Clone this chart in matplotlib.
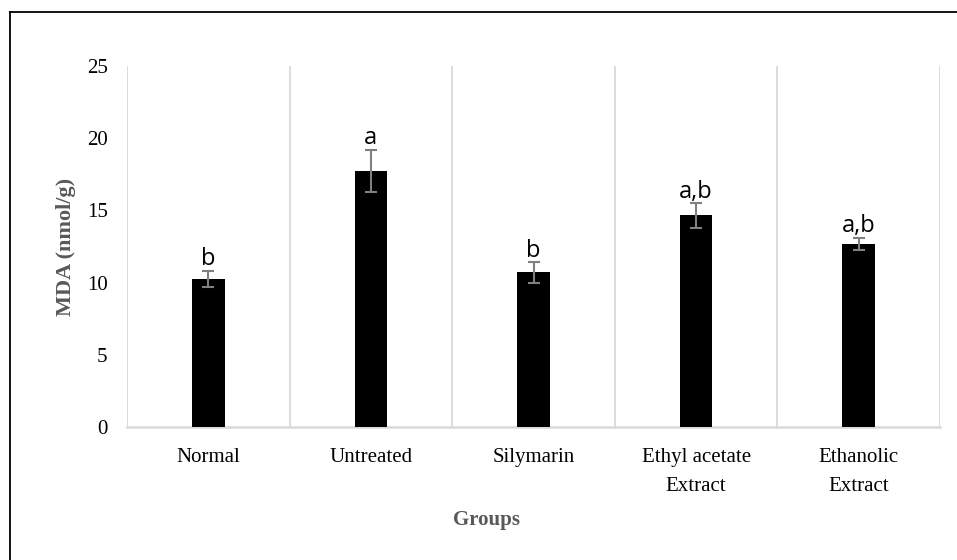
import matplotlib.pyplot as plt
from matplotlib.lines import Line2D

groups = ['Normal', 'Untreated', 'Silymarin', 'Ethyl acetate\nExtract', 'Ethanolic\nExtract']
mda = [10.25, 17.75, 10.7, 14.65, 12.68]
sem = [0.55, 1.45, 0.72, 0.85, 0.43]
letters = ['b', 'a', 'b', 'a,b', 'a,b']

W, H = 957, 560
fig = plt.figure(figsize=(W / 100, H / 100), dpi=100)
ax = fig.add_axes([127 / W, 1 - 427 / H, 813 / W, 361 / H])

x = range(len(groups))
ax.bar(x, mda, width=0.2, color='black', zorder=3)
ax.errorbar(x, mda, yerr=sem, fmt='none', ecolor='#808080', elinewidth=1.5,
            capsize=4, capthick=1.5, zorder=4)

# letras de significancia
for i in x:
    ax.annotate(letters[i], (i, mda[i] + sem[i]), xytext=(0, 4), textcoords='offset points',
                ha='center', va='baseline', fontsize=17, family='Open Sans', color='black')

# lineas verticales entre grupos
for b in range(len(groups) + 1):
    ax.axvline(b - 0.5, color='#d9d9d9', lw=1.3, zorder=1)

ax.set_xlim(-0.5, len(groups) - 0.5)
ax.set_ylim(0, 25)
ax.set_yticks(range(0, 26, 5))
ax.set_xticks(list(x))
ax.set_xticklabels(groups, family='Liberation Serif', fontsize=15, linespacing=1.7)
for lab in ax.get_yticklabels():
    lab.set_family('Liberation Serif')
    lab.set_fontsize(15)
ax.tick_params(axis='both', length=0)
ax.tick_params(axis='y', pad=14)
ax.tick_params(axis='x', pad=15)

for s in ['top', 'right', 'left']:
    ax.spines[s].set_visible(False)
ax.spines['bottom'].set_color('#d9d9d9')
ax.spines['bottom'].set_linewidth(1.8)

ax.set_ylabel('MDA (nmol/g)', family='Liberation Serif', fontsize=16, fontweight='bold',
              color='#595959', labelpad=8)
ax.set_xlabel('Groups', family='Liberation Serif', fontsize=15, fontweight='bold',
              color='#595959', labelpad=8)
ax.xaxis.set_label_coords(0.4416, -0.231)

# marco (solo izquierda y arriba, como en la imagen recortada)
fig.add_artist(Line2D([9.5 / W, 9.5 / W], [0, 1 - 12 / H], color='black', lw=1.3,
                      transform=fig.transFigure))
fig.add_artist(Line2D([9.5 / W, 1], [1 - 12 / H, 1 - 12 / H], color='black', lw=1.3,
                      transform=fig.transFigure))

fig.savefig('out.png', dpi=100)
